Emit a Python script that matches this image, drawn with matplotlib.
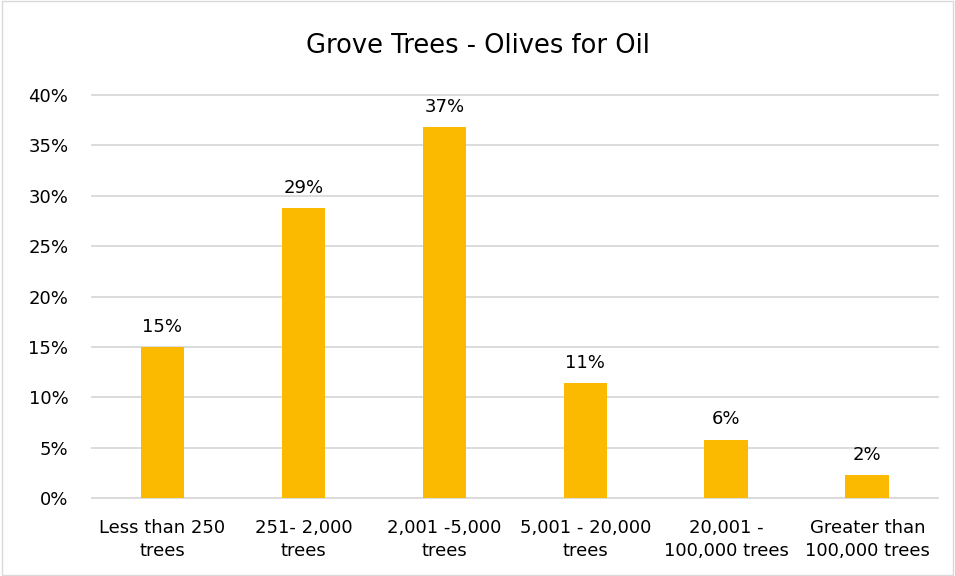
import matplotlib
matplotlib.use("Agg")
import matplotlib.pyplot as plt
from matplotlib.ticker import PercentFormatter
from matplotlib.patches import Rectangle

categories = ["Less than 250\ntrees", "251- 2,000\ntrees", "2,001 -5,000\ntrees",
              "5,001 - 20,000\ntrees", "20,001 -\n100,000 trees", "Greater than\n100,000 trees"]
values = [0.150, 0.288, 0.368, 0.114, 0.058, 0.023]
yticks = [0, 0.05, 0.10, 0.15, 0.20, 0.25, 0.30, 0.35, 0.40]

bar_color = "#FBBA00"
grid_color = "#D9D9D9"

plt.rcParams['font.family'] = ['DejaVu Sans']
fig = plt.figure(figsize=(9.55, 5.76), dpi=100)
fig.patches.append(Rectangle((0.002, 0.002), 0.996, 0.996, transform=fig.transFigure,
                             fill=False, edgecolor="#D9D9D9", linewidth=1))
ax = fig.add_axes([0.0963, 0.1354, 0.8857, 0.6996])

x = range(len(categories))
bars = ax.bar(x, values, width=0.31, color=bar_color, zorder=3)
for b, v in zip(bars, values):
    ax.annotate(f"{v*100:.0f}%", (b.get_x() + b.get_width() / 2, v),
                xytext=(0, 8), textcoords="offset points", ha="center", va="bottom",
                fontsize=13, color="#000000")

ax.set_xlim(-0.5, len(categories) - 0.5)
ax.set_ylim(0, 0.40)
ax.set_yticks(yticks)
ax.yaxis.set_major_formatter(PercentFormatter(1.0, decimals=0))
ax.set_xticks(list(x))
ax.set_xticklabels(categories, fontsize=13, linespacing=1.35)
ax.tick_params(axis="y", labelsize=13, length=0, pad=17)
ax.tick_params(axis="x", length=0, pad=15)
ax.grid(axis="y", color=grid_color, linewidth=1.3, zorder=0)
for gl in ax.get_ygridlines():
    gl.set_clip_on(False)
for s in ax.spines.values():
    s.set_visible(False)
ax.axhline(0, color=grid_color, linewidth=1.3, zorder=1)

fig.text(0.5, 0.92, "Grove Trees - Olives for Oil", ha="center", va="center", fontsize=18.5)

fig.savefig("out.png", dpi=100)
